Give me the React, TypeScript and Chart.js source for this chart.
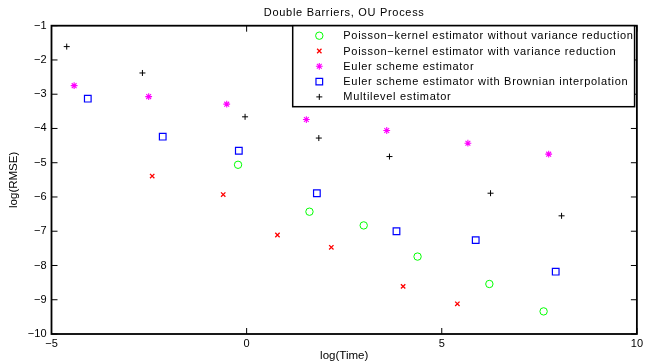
import React, { useEffect, useRef } from "react";
import { Chart, registerables } from "chart.js";

Chart.register(...registerables);

const titleText = "Double Barriers, OU Process";
const xTitle = "log(Time)";
const yTitle = "log(RMSE)";
const xTickValues = [-5, 0, 5, 10];
const yTickValues = [-10, -9, -8, -7, -6, -5, -4, -3, -2, -1];

const seriesNames = [
  "Poisson\u2212kernel estimator without variance reduction",
  "Poisson\u2212kernel estimator with variance reduction",
  "Euler scheme estimator",
  "Euler scheme estimator with Brownian interpolation",
  "Multilevel estimator",
];

const pkNoX = [-0.22, 1.61, 3.0, 4.38, 6.22, 7.61];
const pkNoY = [-5.06, -6.43, -6.83, -7.74, -8.54, -9.34];
const pkVrX = [-2.42, -0.6, 0.79, 2.17, 4.01, 5.4];
const pkVrY = [-5.39, -5.93, -7.11, -7.47, -8.61, -9.12];
const eulerX = [-4.42, -2.51, -0.51, 1.53, 3.59, 5.67, 7.74];
const eulerY = [-2.75, -3.07, -3.29, -3.74, -4.06, -4.43, -4.75];
const brownX = [-4.07, -2.15, -0.2, 1.8, 3.84, 5.87, 7.92];
const brownY = [-3.13, -4.24, -4.65, -5.89, -7.0, -7.26, -8.18];
const multiX = [-4.61, -2.67, -0.04, 1.85, 3.66, 6.25, 8.07];
const multiY = [-1.61, -2.38, -3.66, -4.28, -4.82, -5.89, -6.55];

const FONT = '"Liberation Sans", Arial, Helvetica, sans-serif';

const styles = [
  { style: "circle", color: "#00ff00", r: 3.7, lw: 1 },
  { style: "crossRot", color: "#ff0000", r: 3.1, lw: 1.3 },
  { style: "star", color: "#ff00ff", r: 3.4, lw: 1.1 },
  { style: "rect", color: "#0000ff", r: 4.7, lw: 1.2 },
  { style: "cross", color: "#000000", r: 3, lw: 1 },
];

const toPts = (xs: number[], ys: number[]) => xs.map((x, i) => ({ x, y: ys[i] }));

function drawMarker(ctx: CanvasRenderingContext2D, style: string, x: number, y: number, r: number, color: string, lw: number) {
  ctx.save();
  ctx.strokeStyle = color;
  ctx.lineWidth = lw;
  ctx.beginPath();
  const d = Math.SQRT1_2 * r;
  if (style === "circle") {
    ctx.arc(x, y, r, 0, Math.PI * 2);
  } else if (style === "rect") {
    ctx.rect(x - d, y - d, 2 * d, 2 * d);
  } else {
    if (style === "cross" || style === "star") {
      ctx.moveTo(x - r, y); ctx.lineTo(x + r, y);
      ctx.moveTo(x, y - r); ctx.lineTo(x, y + r);
    }
    if (style === "crossRot" || style === "star") {
      ctx.moveTo(x - d, y - d); ctx.lineTo(x + d, y + d);
      ctx.moveTo(x - d, y + d); ctx.lineTo(x + d, y - d);
    }
  }
  ctx.stroke();
  ctx.restore();
}

const framePlugin = {
  id: "matlabFrame",
  beforeDatasetsDraw(chart: any) {
    const { ctx, chartArea: a, scales } = chart;
    ctx.save();
    ctx.strokeStyle = "#000";
    ctx.lineWidth = 1;
    const tl = 6;
    ctx.beginPath();
    for (const v of xTickValues) {
      const px = scales.x.getPixelForValue(v);
      ctx.moveTo(px, a.bottom); ctx.lineTo(px, a.bottom - tl);
      ctx.moveTo(px, a.top); ctx.lineTo(px, a.top + tl);
    }
    for (const v of yTickValues) {
      const py = scales.y.getPixelForValue(v);
      ctx.moveTo(a.left, py); ctx.lineTo(a.left + tl, py);
      ctx.moveTo(a.right, py); ctx.lineTo(a.right - tl, py);
    }
    ctx.stroke();
    ctx.lineWidth = 1.8;
    ctx.strokeRect(a.left, a.top, a.right - a.left, a.bottom - a.top);
    // title
    ctx.fillStyle = "#000";
    ctx.font = `11px ${FONT}`;
    (ctx as any).letterSpacing = "0.7px";
    ctx.textAlign = "center";
    ctx.textBaseline = "middle";
    ctx.fillText(titleText, (a.left + a.right) / 2, 13);
    ctx.restore();
  },
  afterDatasetsDraw(chart: any) {
    const { ctx, chartArea: a } = chart;
    const bx = 292.7, by = a.top, bw = a.right - 2.3 - bx, bh = 106.7 - a.top;
    ctx.save();
    ctx.fillStyle = "#fff";
    ctx.fillRect(bx, by, bw, bh);
    ctx.strokeStyle = "#000";
    ctx.lineWidth = 1.5;
    ctx.strokeRect(bx, by, bw, bh);
    ctx.font = `11px ${FONT}`;
    (ctx as any).letterSpacing = "0.7px";
    ctx.fillStyle = "#000";
    ctx.textAlign = "left";
    ctx.textBaseline = "middle";
    seriesNames.forEach((name, i) => {
      const y = 35.7 + i * 15.3;
      const s = styles[i];
      drawMarker(ctx, s.style, 319.3, y, s.r, s.color, s.lw);
      ctx.fillText(name, 343.3, y + 0.5);
    });
    ctx.restore();
  },
};

const fmt = (v: number) => (v < 0 ? "\u2212" + Math.abs(v) : String(v));

export default function App() {
  const ref = useRef<HTMLCanvasElement>(null);
  useEffect(() => {
    if (!ref.current) return;
    const data = [toPts(pkNoX, pkNoY), toPts(pkVrX, pkVrY), toPts(eulerX, eulerY), toPts(brownX, brownY), toPts(multiX, multiY)];
    const chart = new Chart(ref.current, {
      type: "scatter",
      data: {
        datasets: data.map((d, i) => ({
          label: seriesNames[i],
          data: d,
          pointStyle: styles[i].style as any,
          pointRadius: styles[i].r,
          pointBorderColor: styles[i].color,
          pointBackgroundColor: "rgba(0,0,0,0)",
          pointBorderWidth: styles[i].lw,
          showLine: false,
        })),
      },
      options: {
        animation: false,
        responsive: false,
        layout: { padding: { left: 0, right: 8.5, top: 25.7, bottom: 0 } },
        plugins: { legend: { display: false }, title: { display: false }, tooltip: { enabled: false } },
        scales: {
          x: {
            type: "linear",
            min: -5,
            max: 10,
            afterFit: (s: any) => { s.height = 29; },
            afterBuildTicks: (s: any) => { s.ticks = xTickValues.map((v) => ({ value: v })); },
            grid: { display: false, drawTicks: false },
            border: { display: false },
            ticks: { color: "#000", font: { family: FONT, size: 11 }, padding: 3, callback: (v: any) => fmt(Number(v)), maxRotation: 0 },
            title: { display: true, text: xTitle, color: "#000", font: { family: FONT, size: 11.5 }, padding: { top: 0, bottom: 0.7 } },
          },
          y: {
            type: "linear",
            min: -10,
            max: -1,
            afterFit: (s: any) => { s.width = 51.5; },
            afterBuildTicks: (s: any) => { s.ticks = yTickValues.map((v) => ({ value: v })); },
            grid: { display: false, drawTicks: false },
            border: { display: false },
            ticks: { color: "#000", font: { family: FONT, size: 11 }, padding: 5, callback: (v: any) => fmt(Number(v)) },
            title: { display: true, text: yTitle, color: "#000", font: { family: FONT, size: 11.5 }, padding: { top: 7.4, bottom: 0 } },
          },
        },
      },
      plugins: [framePlugin],
    } as any);
    return () => chart.destroy();
  }, []);
  return (
    <div style={{ position: "fixed", left: 0, top: 0, width: 646, height: 363, background: "#fff" }}>
      <canvas ref={ref} width={646} height={363} style={{ display: "block" }} />
    </div>
  );
}
